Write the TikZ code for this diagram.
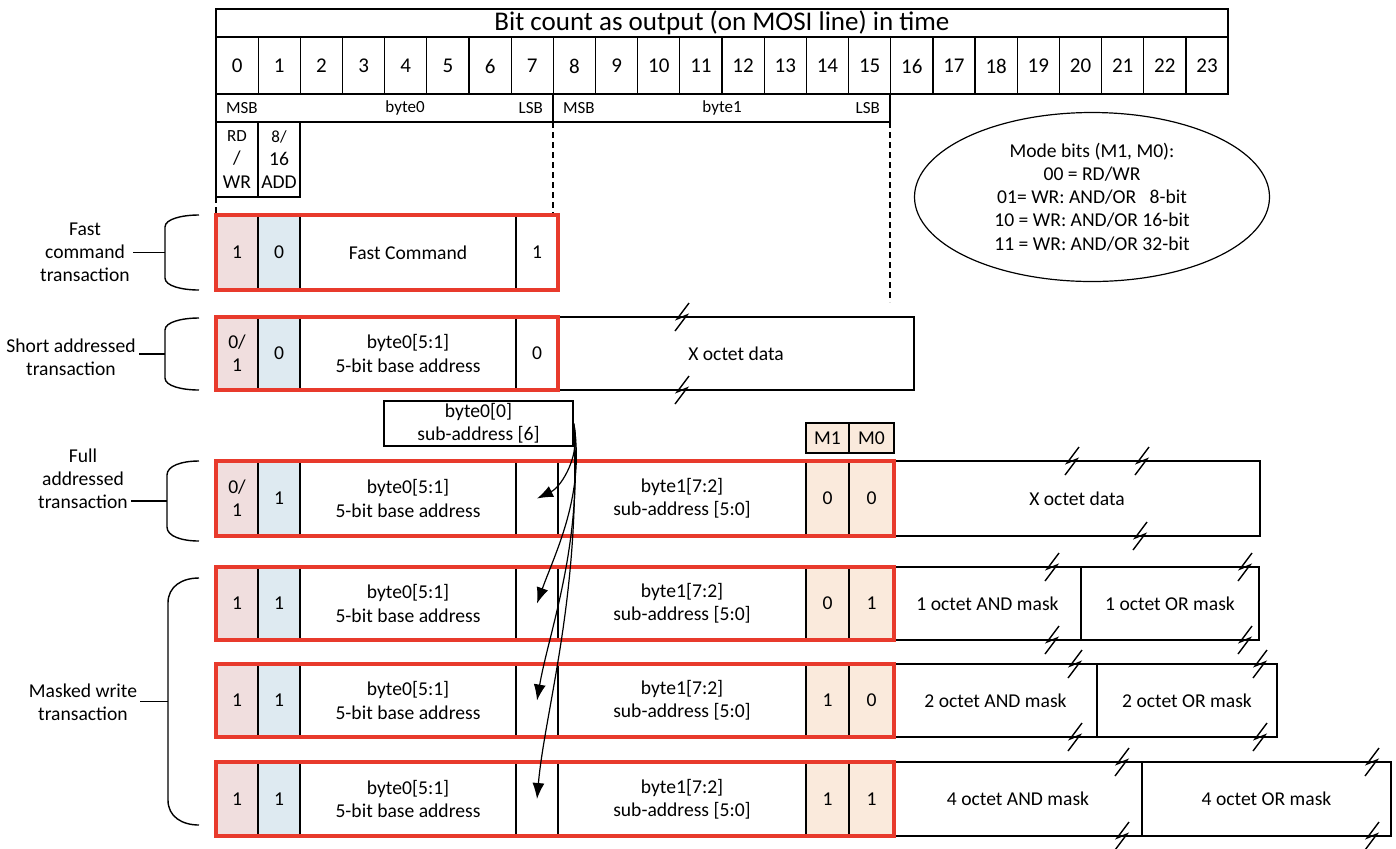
\documentclass[tikz,border=0pt]{standalone}
\usepackage{fontspec}
\setmainfont{Carlito}
\usepackage{tikz}
\usetikzlibrary{arrows.meta,positioning,calc,shapes.geometric}

\newcommand\cellfont{\fontsize{9.8}{11.6}\selectfont}
\newcommand\numfont{\fontsize{10.5}{12}\selectfont}
\newcommand\hdrfont{\fontsize{13.5}{16}\selectfont}
\newcommand\smallfont{\fontsize{8.5}{10.5}\selectfont}

% one field of a transaction: style, x1, x2, y1, y2, name, text
\newcommand\bitcell[7]{%
  \node[#1, lbl, inner sep=0pt, minimum width={(#3-#2)*0.5pt}, minimum height={(#5-#4)*0.5pt}]
    (#6) at ({(#2+#3)/2},{(#4+#5)/2}) {#7};}
% break mark on a box edge
\newcommand\breakmark[2]{\draw[brk] (#1,#2) ++(7,-14) -- ++(-12,16) -- ++(10,-4) -- ++(-12,16);}
% brace on the left: name, x, top, bottom, bend
\newcommand\sidebrace[5]{%
  \draw[brace] (199,#3) .. controls (182,#3) and (#2,#3+#5/3) .. (#2,#3+#5) -- (#2,#4-#5) .. controls (#2,#4-#5/3) and (182,#4) .. (199,#4);
  \coordinate (#1) at (#2,{(#3+#4)/2});}

\begin{document}
\begin{tikzpicture}[x=0.5pt,y=-0.5pt]
\definecolor{rd fill}{RGB}{240,222,222}
\definecolor{add fill}{RGB}{222,234,241}
\definecolor{mode fill}{RGB}{250,234,220}
\definecolor{frame red}{RGB}{232,58,44}
\tikzset{
     cell/.style={draw, line width=0.6pt},
     rdcell/.style={cell, fill=rd fill},
     addcell/.style={cell, fill=add fill},
     modecell/.style={cell, fill=mode fill},
     frame/.style={draw=frame red, line width=1.6pt},
     lbl/.style={align=center, font=\cellfont, inner sep=1.5pt},
     brk/.style={line width=0.7pt},
     brace/.style={line width=0.7pt},
     guide/.style={line width=0.6pt, dash pattern=on 3pt off 2pt},
     arr/.style={line width=0.6pt, -{Latex[length=8pt,width=6pt]}}}
\useasboundingbox (0,0) rectangle (1396,848);

% The header
\draw[cell] (216,9) rectangle (1228,37);
\node[font=\hdrfont] (title) at (722,23) {Bit count as output (on MOSI line) in time};
\foreach \i in {0,...,23}{
  \draw[cell] ({216+42.17*\i},37) rectangle ({216+42.17*(\i+1)},94);
  \node[font=\numfont] (bit\i) at ({216+42.17*(\i+0.5)},66) {\i};}
\draw[cell] (216,94) rectangle (553,122);
\draw[cell] (553,94) rectangle (890,122);
\node[font=\smallfont, anchor=west] (msb0) at (219,108) {MSB};
\node[font=\smallfont] (byte0) at (405,108) {byte0};
\node[font=\smallfont, anchor=east] (lsb0) at (550,108) {LSB};
\node[font=\smallfont, anchor=west] (msb1) at (556,108) {MSB};
\node[font=\smallfont] (byte1) at (722,108) {byte1};
\node[font=\smallfont, anchor=east] (lsb1) at (887,108) {LSB};
\bitcell{cell}{216}{258}{122}{197}{rdwr}{\smallfont RD\\/\\WR}
\bitcell{cell}{258}{300}{122}{197}{addr}{\smallfont 8/\\16\\ADD}
\draw[guide] (216,197) -- (216,215);
\draw[guide] (553,122) -- (553,215);
\draw[guide] (890,122) -- (890,302);

% The mode note
\node[draw, ellipse, line width=0.6pt, minimum width=177.5pt, minimum height=84.5pt, inner sep=0pt, align=center, font=\cellfont] (modes) at (1092,197)
  {Mode bits (M1, M0):\\00 = RD/WR\\01= WR: AND/OR\ \ \ 8-bit\\10 = WR: AND/OR 16-bit\\11 = WR: AND/OR 32-bit};

% Fast command
\bitcell{rdcell}{216}{258}{215}{290}{fc0}{1}
\bitcell{addcell}{258}{300}{215}{290}{fc1}{0}
\bitcell{cell}{300}{516}{215}{290}{fc2}{Fast Command}
\bitcell{cell}{516}{558}{215}{290}{fc7}{1}
\draw[frame] (216,215) rectangle (558,290);

% Short addressed
\bitcell{rdcell}{216}{258}{317}{390}{sa0}{0/\\1}
\bitcell{addcell}{258}{300}{317}{390}{sa1}{0}
\bitcell{cell}{300}{516}{317}{390}{sa2}{byte0[5:1]\\5-bit base address}
\bitcell{cell}{516}{558}{317}{390}{sa7}{0}
\bitcell{cell}{558}{914}{317}{390}{sadata}{X octet data}
\draw[frame] (216,317) rectangle (558,390);
\breakmark{682}{317} \breakmark{682}{390}

% Sub-address and mode bits
\bitcell{cell}{384}{573}{401}{446}{subaddr}{byte0[0]\\sub-address [6]}
\bitcell{modecell}{806}{849}{423}{453}{m1}{M1}
\bitcell{modecell}{849}{894}{423}{453}{m0}{M0}

% Full addressed
\bitcell{rdcell}{216}{258}{461}{536}{fa0}{0/\\1}
\bitcell{addcell}{258}{300}{461}{536}{fa1}{1}
\bitcell{cell}{300}{516}{461}{536}{fa2}{byte0[5:1]\\5-bit base address}
\bitcell{cell}{516}{558}{461}{536}{fa7}{}
\bitcell{cell}{558}{806}{461}{536}{fa8}{byte1[7:2]\\sub-address [5:0]}
\bitcell{modecell}{806}{849}{461}{536}{fam1}{0}
\bitcell{modecell}{849}{894}{461}{536}{fam0}{0}
\bitcell{cell}{894}{1260}{461}{536}{fadata}{X octet data}
\draw[frame] (216,461) rectangle (894,536);
\breakmark{1072}{461} \breakmark{1142}{461} \breakmark{1140}{536}

% Masked writes
\foreach \ya/\yb/\nm/\mone/\mzero/\xm/\xr/\oc/\ba/\bb in
  {567/640/mwa/0/1/1081/1259/1/1052/1245,
   664/737/mwb/1/0/1097/1277/2/1075/1260,
   762/836/mwc/1/1/1142/1391/4/1122/1372}{
  \bitcell{rdcell}{216}{258}{\ya}{\yb}{\nm0}{1}
  \bitcell{addcell}{258}{300}{\ya}{\yb}{\nm1}{1}
  \bitcell{cell}{300}{516}{\ya}{\yb}{\nm2}{byte0[5:1]\\5-bit base address}
  \bitcell{cell}{516}{558}{\ya}{\yb}{\nm7}{}
  \bitcell{cell}{558}{806}{\ya}{\yb}{\nm8}{byte1[7:2]\\sub-address [5:0]}
  \bitcell{modecell}{806}{849}{\ya}{\yb}{\nm m1}{\mone}
  \bitcell{modecell}{849}{894}{\ya}{\yb}{\nm m0}{\mzero}
  \bitcell{cell}{894}{\xm}{\ya}{\yb}{\nm and}{\oc{} octet AND mask}
  \bitcell{cell}{\xm}{\xr}{\ya}{\yb}{\nm or}{\oc{} octet OR mask}
  \draw[frame] (216,\ya) rectangle (894,\yb);
  \breakmark{\ba}{\ya} \breakmark{\ba}{\yb}
  \breakmark{\bb}{\ya} \breakmark{\bb}{\yb}}

% The arrows
\draw[arr] (subaddr.east) .. controls +(8,30) and +(25,-12) .. (fa7.center);
\draw[arr] (subaddr.east) .. controls +(12,70) and +(18,-50) .. (mwa7.center);
\draw[arr] (subaddr.east) .. controls +(10,120) and +(12,-70) .. (mwb7.center);
\draw[arr] (subaddr.east) .. controls +(8,170) and +(8,-90) .. (mwc7.center);

% The labels
\node[lbl] (fastlbl) at (85,252) {Fast\\command\\transaction};
\sidebrace{fastmid}{165}{215}{290}{12}
\draw[brace] (fastmid) -- (fastmid -| fastlbl.east);
\node[lbl] (shortlbl) at (71,357) {Short addressed\\transaction};
\sidebrace{shortmid}{165}{318}{390}{12}
\draw[brace] (shortmid) -- (shortmid -| shortlbl.east);
\node[lbl] (fulllbl) at (83,479) {Full\\addressed\\transaction};
\sidebrace{fullmid}{167}{461}{541}{14}
\draw[brace] (fullmid) -- (fullmid -| fulllbl.east);
\node[lbl] (mwlbl) at (83,702) {Masked write\\transaction};
\sidebrace{mwmid}{168}{578}{825}{25}
\draw[brace] (mwmid) -- (mwmid -| mwlbl.east);
\end{tikzpicture}
\end{document}
